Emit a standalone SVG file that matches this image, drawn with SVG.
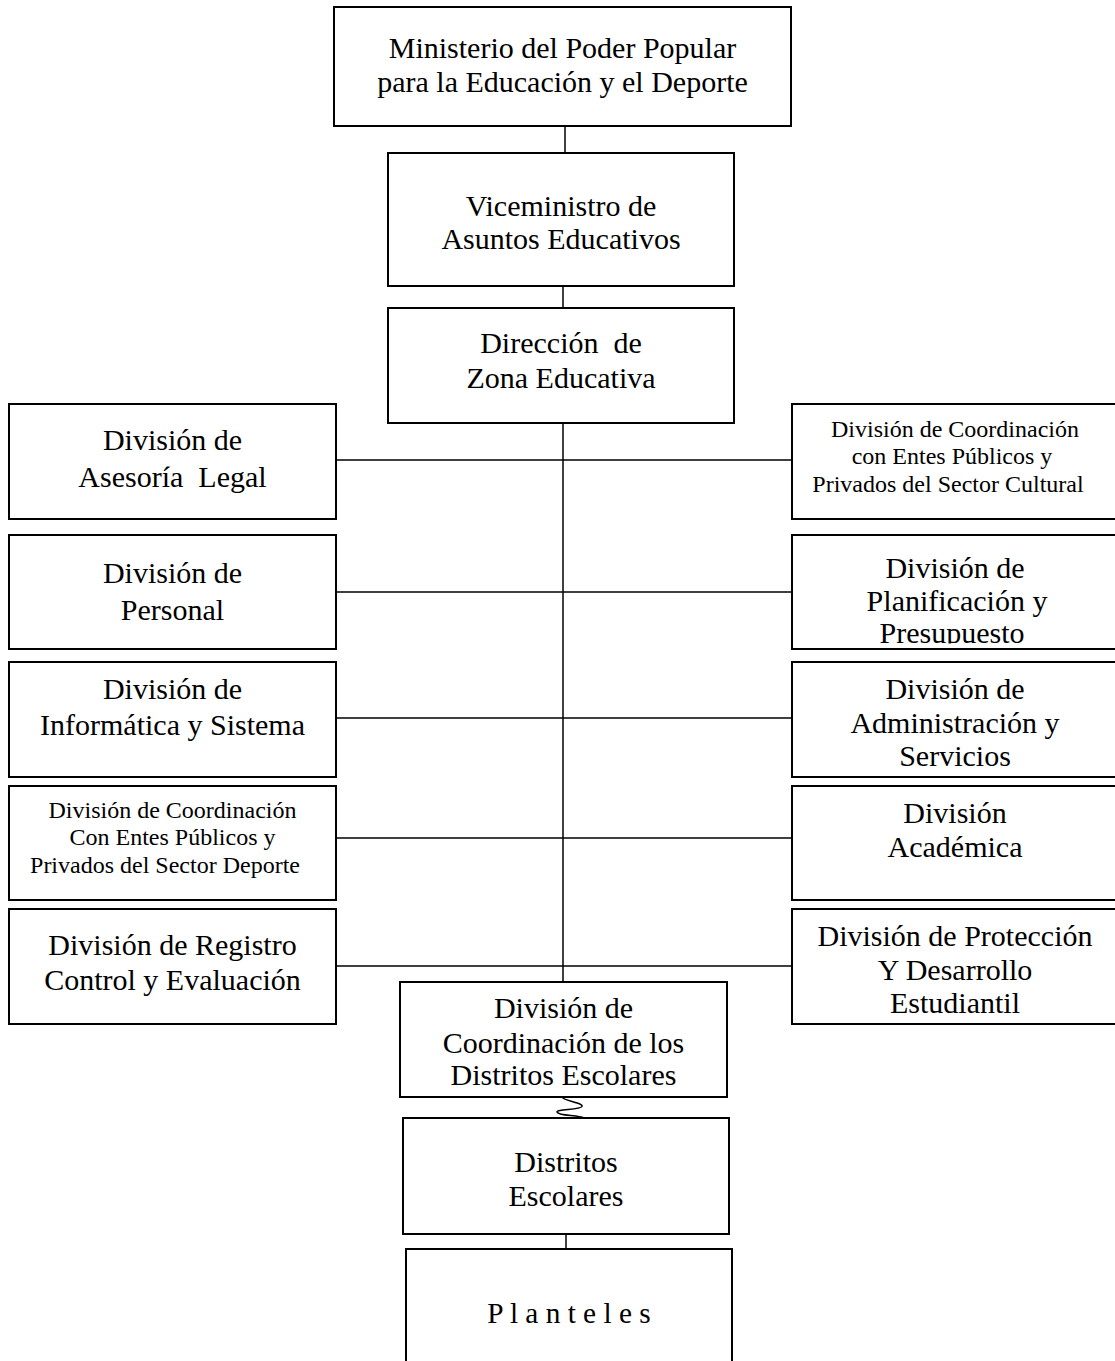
<svg xmlns="http://www.w3.org/2000/svg" width="1115" height="1361" viewBox="0 0 1115 1361">
<style>
.box{fill:#ffffff;stroke:#000000;stroke-width:2}
.ln{fill:none;stroke:#000000;stroke-width:1.5}
text{font-family:"Liberation Serif","Times New Roman",serif;fill:#000000;text-anchor:middle}
.t{font-size:30px}
.s{font-size:24px}
.p{font-size:29.3px}
</style>
<defs>
<clipPath id="clipPres"><rect x="792" y="535" width="330" height="108.5"/></clipPath>
</defs>
<rect x="0" y="0" width="1115" height="1361" fill="#ffffff"/>
<g id="connectors">
<line class="ln" x1="565" y1="126" x2="565" y2="153"/>
<line class="ln" x1="563" y1="286" x2="563" y2="308"/>
<line class="ln" x1="563" y1="423" x2="563" y2="982"/>
<line class="ln" x1="336" y1="460" x2="792" y2="460"/>
<line class="ln" x1="336" y1="592" x2="792" y2="592"/>
<line class="ln" x1="336" y1="718" x2="792" y2="718"/>
<line class="ln" x1="336" y1="838" x2="792" y2="838"/>
<line class="ln" x1="336" y1="966" x2="792" y2="966"/>
<path class="ln" d="M562,1097 C564,1101 584,1103 582,1106.5 C580,1110 556,1109 557,1112 C558,1116 578,1115 584,1118"/>
<line class="ln" x1="566" y1="1234" x2="566" y2="1249"/>
</g>
<g id="ministerio">
<rect class="box" x="334" y="7" width="457" height="119"/>
<text class="t" x="562.5" y="58">Ministerio del Poder Popular</text>
<text class="t" x="562.5" y="92">para la Educación y el Deporte</text>
</g>
<g id="viceministro">
<rect class="box" x="388" y="153" width="346" height="133"/>
<text class="t" x="561" y="216">Viceministro de</text>
<text class="t" x="561" y="249">Asuntos Educativos</text>
</g>
<g id="direccion">
<rect class="box" x="388" y="308" width="346" height="115"/>
<text class="t" x="561" y="353" xml:space="preserve">Dirección  de</text>
<text class="t" x="561" y="388">Zona Educativa</text>
</g>
<g id="asesoria">
<rect class="box" x="9" y="404" width="327" height="115"/>
<text class="t" x="172.5" y="450">División de</text>
<text class="t" x="172.5" y="487" xml:space="preserve">Asesoría  Legal</text>
</g>
<g id="personal">
<rect class="box" x="9" y="535" width="327" height="114"/>
<text class="t" x="172.5" y="583">División de</text>
<text class="t" x="172.5" y="620">Personal</text>
</g>
<g id="informatica">
<rect class="box" x="9" y="662" width="327" height="115"/>
<text class="t" x="172.5" y="699">División de</text>
<text class="t" x="172.5" y="735">Informática y Sistema</text>
</g>
<g id="deporte">
<rect class="box" x="9" y="786" width="327" height="114"/>
<text class="s" x="172.5" y="818">División de Coordinación</text>
<text class="s" x="172.5" y="845">Con Entes Públicos y</text>
<text class="s" x="165" y="873">Privados del Sector Deporte</text>
</g>
<g id="registro">
<rect class="box" x="9" y="909" width="327" height="115"/>
<text class="t" x="172.5" y="955">División de Registro</text>
<text class="t" x="172.5" y="990">Control y Evaluación</text>
</g>
<g id="cultural">
<rect class="box" x="792" y="404" width="330" height="115"/>
<text class="s" x="955" y="437">División de Coordinación</text>
<text class="s" x="952" y="464">con Entes Públicos y</text>
<text class="s" x="948" y="492">Privados del Sector Cultural</text>
</g>
<g id="planificacion">
<rect class="box" x="792" y="535" width="330" height="114"/>
<g clip-path="url(#clipPres)">
<text class="t" x="955" y="578">División de</text>
<text class="t" x="957" y="611">Planificación y</text>
<text class="t" x="952" y="643">Presupuesto</text>
</g>
</g>
<g id="administracion">
<rect class="box" x="792" y="662" width="330" height="115"/>
<text class="t" x="955" y="699">División de</text>
<text class="t" x="955" y="733">Administración y</text>
<text class="t" x="955" y="766">Servicios</text>
</g>
<g id="academica">
<rect class="box" x="792" y="786" width="330" height="114"/>
<text class="t" x="955" y="823">División</text>
<text class="t" x="955" y="857">Académica</text>
</g>
<g id="proteccion">
<rect class="box" x="792" y="909" width="330" height="115"/>
<text class="t" x="955" y="946">División de Protección</text>
<text class="t" x="955" y="980">Y Desarrollo</text>
<text class="t" x="955" y="1013">Estudiantil</text>
</g>
<g id="coordinacion-distritos">
<rect class="box" x="400" y="982" width="327" height="115"/>
<text class="t" x="563.5" y="1018">División de</text>
<text class="t" x="563.5" y="1053">Coordinación de los</text>
<text class="t" x="563.5" y="1085">Distritos Escolares</text>
</g>
<g id="distritos">
<rect class="box" x="403" y="1118" width="326" height="116"/>
<text class="t" x="566" y="1172">Distritos</text>
<text class="t" x="566" y="1206">Escolares</text>
</g>
<g id="planteles">
<rect class="box" x="406" y="1249" width="326" height="130"/>
<text class="p" x="569" y="1323" xml:space="preserve">P l a n t e l e s</text>
</g>
</svg>
